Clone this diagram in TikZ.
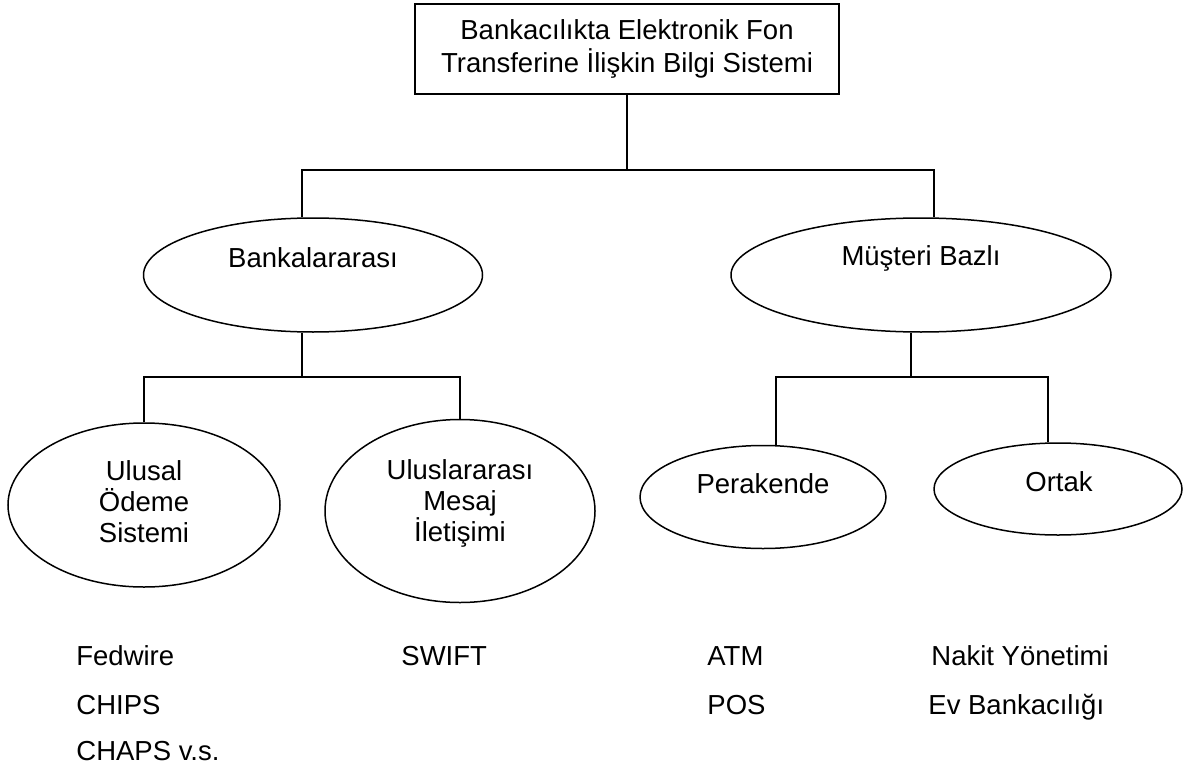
\documentclass[tikz,border=0pt]{standalone}
\usepackage{fontspec}
\setmainfont{Liberation Sans}
\usetikzlibrary{shapes.geometric}

\tikzset{
  oval/.style={draw, ellipse, line width=0.75pt, inner sep=0pt},
  lbl/.style={font=\fontsize{13.75}{15.5}\selectfont, align=center, inner sep=0pt},
  item/.style={font=\fontsize{13.75}{15.5}\selectfont, anchor=base west, inner sep=0pt},
  link/.style={line width=0.75pt}
}

\begin{document}
\begin{tikzpicture}[x=0.5pt, y=-0.5pt]
  \useasboundingbox (0,0) rectangle (1192,770);

  % --- Root box ---
  \node[draw, line width=0.75pt, lbl, font=\fontsize{13.75}{16.5}\selectfont,
        minimum width=212pt, minimum height=45pt] (root) at (627,49)
       {Bankacılıkta Elektronik Fon\\Transferine İlişkin Bilgi Sistemi};

  % --- Level 1 ---
  \node[oval, minimum width=169.5pt, minimum height=57pt] (banka) at (313,275) {};
  \node[lbl] (bankaT) at (313,258) {Bankalararası};
  \node[oval, minimum width=190pt, minimum height=57pt] (musteri) at (921,275) {};
  \node[lbl] (musteriT) at (921,258) {Müşteri Bazlı};

  % --- Level 2 ---
  \node[oval, minimum width=136pt, minimum height=82pt] (ulusal) at (144,505) {};
  \node[lbl] (ulusalT) at (144,502) {Ulusal\\Ödeme\\Sistemi};
  \node[oval, minimum width=135pt, minimum height=91.5pt] (uluslar) at (460,511) {};
  \node[lbl] (uluslarT) at (460,503) {Uluslararası\\Mesaj\\İletişimi};
  \node[oval, minimum width=123pt, minimum height=51.5pt] (perakende) at (763,497) {};
  \node[lbl] (perakendeT) at (763,484) {Perakende};
  \node[oval, minimum width=124pt, minimum height=46pt] (ortak) at (1058,489) {};
  \node[lbl] (ortakT) at (1059,482) {Ortak};

  % --- Connectors ---
  \coordinate (busL) at (302,170);
  \coordinate (busR) at (934,170);
  \draw[link] (root.south) -- (root.south |- busL);
  \draw[link] (busL |- banka.north) -- (busL) -- (busR) -- (busR |- musteri.north);

  \coordinate (stemA) at (302,377);
  \draw[link] (stemA |- banka.south) -- (stemA);
  \draw[link] (ulusal.north) |- (stemA) -| (uluslar.north);

  \coordinate (stemB) at (911,377);
  \coordinate (dropP) at (776,377);
  \coordinate (dropO) at (1048,377);
  \draw[link] (stemB |- musteri.south) -- (stemB);
  \draw[link] (dropP |- perakende.north) -- (dropP) -- (dropO) -- (dropO |- ortak.north);

  % --- Examples under each leaf ---
  \node[item] (fedwire) at (76,665) {Fedwire};
  \node[item] (chips)   at (76,714) {CHIPS};
  \node[item] (chaps)   at (76,760) {CHAPS v.s.};
  \node[item] (swift)   at (401,665) {SWIFT};
  \node[item] (atm)     at (707,665) {ATM};
  \node[item] (pos)     at (707,714) {POS};
  \node[item] (nakit)   at (931,665) {Nakit Yönetimi};
  \node[item] (evbank)  at (928,714) {Ev Bankacılığı};
\end{tikzpicture}
\end{document}
